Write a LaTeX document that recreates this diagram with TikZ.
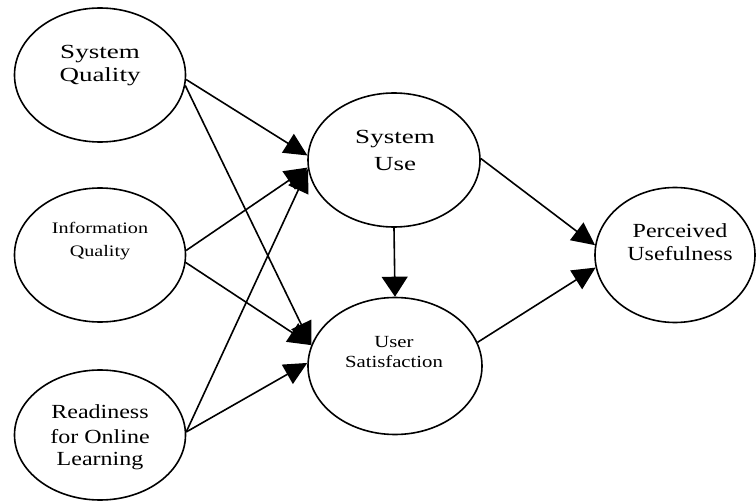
\documentclass[tikz,border=0pt]{standalone}
\usepackage{fontspec}
\setmainfont{Liberation Serif}
\usetikzlibrary{shapes.geometric,arrows.meta}
\newcommand\wt[2]{\scalebox{#1}[1]{#2}}
\begin{document}
\begin{tikzpicture}[x=1pt,y=-1pt,
  ell/.style={draw, ellipse, line width=1.6pt, inner sep=0pt},
  big/.style={font=\fontsize{20}{20}\selectfont, inner sep=0pt, anchor=base},
  small/.style={font=\fontsize{16}{16}\selectfont, inner sep=0pt, anchor=base},
  link/.style={line width=1.6pt, -{Triangle[length=23pt,width=22pt]}},
  vlink/.style={line width=1.6pt, -{Triangle[length=20pt,width=26pt]}}]
\useasboundingbox (0,0) rectangle (756,503);
% ellipses
\node[ell, minimum width=171pt, minimum height=134pt] (sq) at (100,75) {};
\node[ell, minimum width=171pt, minimum height=134pt] (iq) at (100,255) {};
\node[ell, minimum width=171pt, minimum height=130pt] (ro) at (100,435) {};
\node[ell, minimum width=172pt, minimum height=134pt] (su) at (394,160) {};
\node[ell, minimum width=174pt, minimum height=137pt] (us) at (395,366) {};
\node[ell, minimum width=160pt, minimum height=135pt] (pu) at (675,255) {};
% texts
\node[big] (sq1) at (100,59) {\wt{1.35}{System}};
\node[big] (sq2) at (100,82) {\wt{1.35}{Quality}};
\node[small] (iq1) at (100,233) {\wt{1.26}{Information}};
\node[small] (iq2) at (100,256) {\wt{1.26}{Quality}};
\node[big] (ro1) at (100,418) {\wt{1.2}{Readiness}};
\node[big] (ro2) at (100,443) {\wt{1.2}{for Online}};
\node[big] (ro3) at (100,465) {\wt{1.2}{Learning}};
\node[big] (su1) at (395,143) {\wt{1.35}{System}};
\node[big] (su2) at (395,170) {\wt{1.35}{Use}};
\node[small, font=\fontsize{17}{17}\selectfont] (us1) at (394,347) {\wt{1.22}{User}};
\node[small, font=\fontsize{17}{17}\selectfont] (us2) at (394,367) {\wt{1.22}{Satisfaction}};
\node[big] (pu1) at (680,237) {\wt{1.2}{Perceived}};
\node[big] (pu2) at (680,260) {\wt{1.2}{Usefulness}};
% connectors
\draw[link] (sq.-3) -- (su.177);
\draw[link] (sq.-7) -- (us.166);
\draw[link] (iq.3) -- (su.185);
\draw[link] (iq.-5) -- (us.166);
\draw[link] (ro.2) -- (su.186);
\draw[link] (ro.2) -- (us.178);
\draw[vlink] (su.south) -- (us.north);
\draw[link] (su.1) -- (pu.173);
\draw[link] (us.16) -- (pu.189);
\end{tikzpicture}
\end{document}
